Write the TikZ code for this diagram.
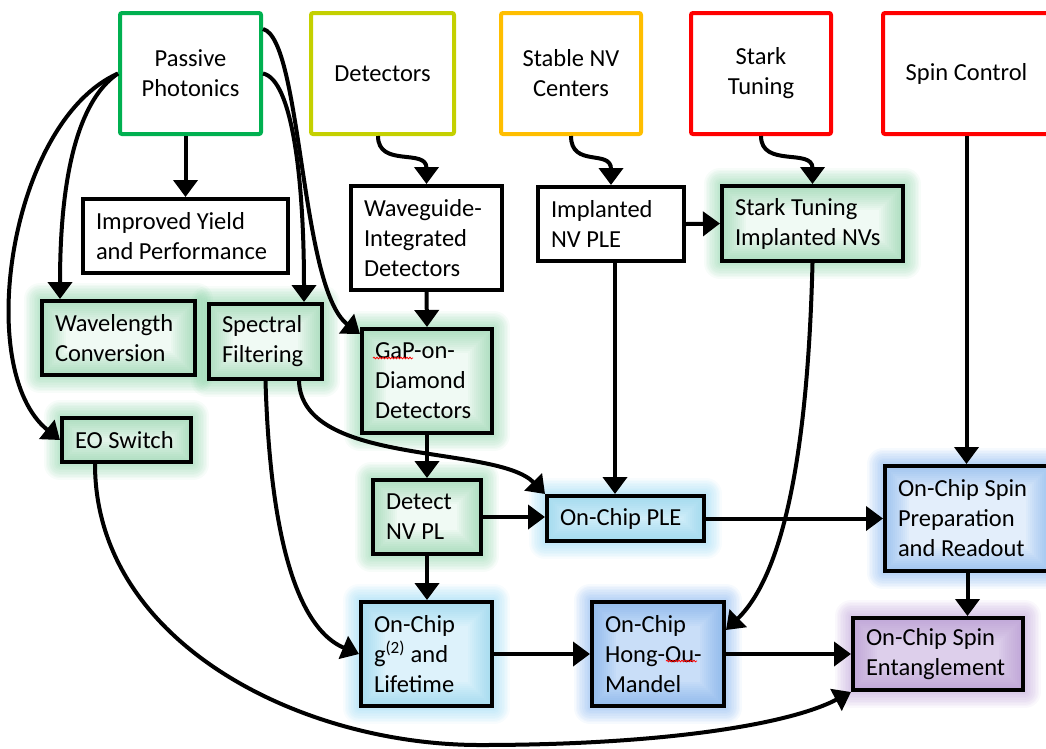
\documentclass[tikz,border=0pt]{standalone}
\usepackage{fontspec}
\setmainfont{Carlito}
\usetikzlibrary{arrows.meta,calc,decorations.pathmorphing}

\definecolor{ppgreen}{RGB}{0,176,80}
\definecolor{detyellow}{RGB}{196,208,0}
\definecolor{nvorange}{RGB}{255,190,0}
\definecolor{boxred}{RGB}{255,0,0}
\definecolor{glowgreen}{RGB}{110,200,145}
\definecolor{glowcyan}{RGB}{120,205,240}
\definecolor{glowblue}{RGB}{100,160,235}
\definecolor{glowpurple}{RGB}{170,135,205}

\pgfdeclarelayer{background}
\pgfsetlayers{background,main}

\tikzset{
  lbl/.style={font=\fontsize{24.5pt}{30pt}\selectfont},
  topbox/.style={lbl, draw=#1, fill=white, line width=4pt, rounded corners=2pt,
    align=flush center, inner sep=0pt},
  stepbox/.style={lbl, draw=black, fill=white, line width=4pt, align=flush left,
    inner xsep=13pt, inner ysep=0pt},
  % soft tint that fades inward from the border
  glow/.style n args={2}{
    fill=#1!#2,
    path picture={
      \foreach \k [evaluate=\k as \lw using 4*\k] in {1,...,12}
        \draw[#1, line width=\lw pt, draw opacity=0.05]
          (path picture bounding box.south west) rectangle (path picture bounding box.north east);
    }
  },
  link/.style={line width=4pt, -{Triangle[length=17pt,width=24pt]}},
  squiggle/.style={red, line width=0.8pt, decorate,
    decoration={snake, amplitude=0.8pt, segment length=3pt}},
}

% halo around a named box, drawn behind it
\newcommand\halo[2]{%
  \foreach \k [evaluate=\k as \lw using 3.2*\k] in {1,...,10}
    \draw[#1, line width=\lw pt, draw opacity=0.055, line join=round]
      (#2.south west) rectangle (#2.north east);
}

\begin{document}
\begin{tikzpicture}[x=1pt, y=-1pt]
\useasboundingbox (0,0) rectangle (1046,748);

% top row: capabilities
\node[topbox=ppgreen, minimum width=141pt, minimum height=121pt] (pp) at (190.5,73.5) {Passive\\Photonics};
\node[topbox=detyellow, minimum width=143pt, minimum height=121pt] (det) at (382.5,73.5) {Detectors};
\node[topbox=nvorange, minimum width=140pt, minimum height=121pt] (snv) at (571,73.5) {Stable NV\\Centers};
\node[topbox=boxred, minimum width=140pt, minimum height=121pt] (stk) at (761,73.5) {Stark\\Tuning};
\node[topbox=boxred, minimum width=167pt, minimum height=121pt] (spc) at (966.5,73.5) {Spin Control};

% second row
\node[stepbox, minimum width=205pt, minimum height=74pt, text width=179pt] (iy) at (185.5,236) {Improved Yield\\and Performance};
\node[stepbox, minimum width=151pt, minimum height=104pt, text width=125pt] (wg) at (426.5,238) {Waveguide-\\Integrated\\Detectors};
\node[stepbox, minimum width=146pt, minimum height=74pt, text width=120pt] (ipl) at (611,224) {Implanted\\NV PLE};
\node[stepbox, glow={glowgreen}{10}, minimum width=181pt, minimum height=75pt, text width=155pt] (sti) at (812.5,223.5) {Stark Tuning\\Implanted NVs};

% third row
\node[stepbox, glow={glowgreen}{10}, minimum width=153pt, minimum height=74pt, text width=127pt] (wc) at (118.5,338) {Wavelength\\Conversion};
\node[stepbox, glow={glowgreen}{10}, minimum width=113pt, minimum height=75pt, text width=87pt] (sf) at (265.5,341.5) {Spectral\\Filtering};
\node[stepbox, glow={glowgreen}{10}, minimum width=130pt, minimum height=104pt, text width=104pt] (gap) at (427,381) {GaP-on-\\Diamond\\Detectors};
\node[stepbox, glow={glowgreen}{10}, minimum width=129pt, minimum height=44pt, text width=103pt] (eo) at (126.5,440) {EO Switch};

% fourth row
\node[stepbox, glow={glowgreen}{10}, minimum width=108pt, minimum height=74pt, text width=82pt] (dnv) at (427,517) {Detect\\NV PL};
\node[stepbox, glow={glowcyan}{30}, minimum width=157pt, minimum height=45pt, text width=131pt] (ple) at (625.5,518.5) {On-Chip PLE};
\node[stepbox, glow={glowblue}{18}, minimum width=165pt, minimum height=105pt, text width=139pt] (spr) at (967.5,518.5) {On-Chip Spin\\Preparation\\and Readout};

% bottom row
\node[stepbox, glow={glowcyan}{25}, minimum width=131pt, minimum height=104pt, text width=105pt] (g2) at (426.5,654) {On-Chip\\g\textsuperscript{(2)} and\\Lifetime};
\node[stepbox, glow={glowblue}{35}, minimum width=132pt, minimum height=104pt, text width=106pt] (hom) at (658,654) {On-Chip\\Hong-Ou-\\Mandel};
\node[stepbox, glow={glowpurple}{40}, minimum width=170pt, minimum height=72pt, text width=144pt] (ent) at (938,654) {On-Chip Spin\\Entanglement};

% halos behind the highlighted boxes
\begin{pgfonlayer}{background}
  \foreach \b in {sti,wc,sf,gap,eo,dnv} { \halo{glowgreen}{\b} }
  \foreach \b in {ple,g2} { \halo{glowcyan}{\b} }
  \foreach \b in {spr,hom} { \halo{glowblue}{\b} }
  \halo{glowpurple}{ent}
\end{pgfonlayer}

% spell-check marks under two words
\draw[squiggle] ($(gap.north west)+(13,31)$) -- ++(40,0);
\draw[squiggle] ($(hom.north west)+(76,61)$) -- ++(31,0);

% connectors from Passive Photonics
\draw[link] (iy.north |- pp.south) -- (iy.north);
\draw[link] (pp.west) .. controls +(-30,20) and +(0,-150) .. ($(wc.north west)+(20,0)$);
\draw[link] (pp.west) .. controls +(-108,48) and +(-87,-70) .. (eo.west);
\draw[link] ($(pp.north east)+(0,18)$) .. controls +(39,10) and +(-60,-46) .. ($(gap.north west)+(0,7)$);
\draw[link] (pp.east) .. controls +(29,6) and +(0,-124) .. ($(sf.north east)+(-20,0)$);

% connectors from the other capabilities
\draw[link] ($(det.south)+(-4.5,0)$) .. controls +(0,32) and +(0,-36) .. (wg.north);
\draw[link] (snv.south) .. controls +(0,32) and +(0,-36) .. (ipl.north);
\draw[link] (stk.south) .. controls +(0,32) and +(0,-36) .. (sti.north);
\draw[link] (spc.south) -- (spc.south |- spr.north);

% middle connectors
\draw[link] (wg.south) -- (gap.north);
\draw[link] (ipl.east) -- (sti.west);
\draw[link] ([xshift=4pt]ipl.south) -- ([xshift=4pt]ipl.south |- ple.north);
\draw[link] (sti.south) .. controls +(-4,159) and +(64,-62) .. ($(hom.north east)+(0,30)$);
\draw[link] ($(sf.south east)+(-25,0)$) .. controls +(3,86) and +(-49,-50) .. (ple.north west);
\draw[link] (sf.south) .. controls +(6,201) and +(-46,-19) .. (g2.west);
\draw[link] (gap.south) -- (dnv.north);
\draw[link] (dnv.east) -- (dnv.east -| ple.west);
\draw[link] (dnv.south) -- (dnv.south |- g2.north);
\draw[link] (ple.east) -- (ple.east -| spr.west);
\draw[link] (g2.east) -- (hom.west);
\draw[link] (hom.east) -- (hom.east -| ent.west);
\draw[link] (spr.south) -- (spr.south |- ent.north);
\draw[link] ($(eo.south west)+(35,0)$) .. controls +(0,178) and +(-180,0) .. (480,745)
  .. controls +(180,0) and +(-63,33) .. (ent.south west);
\end{tikzpicture}
\end{document}
